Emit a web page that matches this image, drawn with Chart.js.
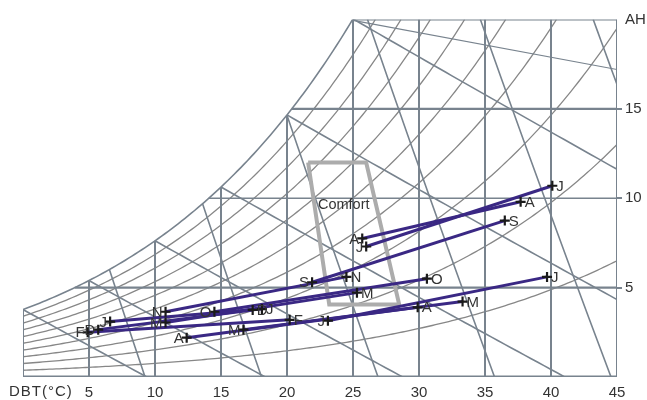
<!DOCTYPE html>
<html><head><meta charset="utf-8">
<style>html,body{margin:0;padding:0;background:#fff}#wrap{width:647px;height:400px}</style>
<script src="https://cdn.jsdelivr.net/npm/chart.js@4.4.1/dist/chart.umd.min.js"></script>
</head><body><div id="wrap"><canvas id="c" width="647" height="400"></canvas></div>
<script>
// ---- monthly data (min point -> max point) ----
const months = ['J','F','M','A','M','J','J','A','S','O','N','D'];
const minDBT = [6.6, 4.9, 10.8, 12.4, 16.7, 23.1, 26.0, 25.7, 21.9, 14.5, 10.8, 5.7];
const minAH  = [3.1, 2.5, 3.05, 2.2, 2.65, 3.15, 7.3, 7.75, 5.3, 3.65, 3.65, 2.65];
const maxDBT = [18.1, 20.2, 25.3, 29.9, 33.3, 39.7, 40.1, 37.7, 36.5, 30.6, 24.5, 17.4];
const maxAH  = [3.8, 3.2, 4.72, 3.9, 4.22, 5.6, 10.7, 9.8, 8.75, 5.5, 5.6, 3.75];
// ---- comfort zone ----
const comfortDBT = [21.6, 26.0, 28.5, 23.2];
const comfortAH  = [12.0, 12.0, 4.05, 4.05];
// ---- axes / chart lines ----
const xTicks = [5, 10, 15, 20, 25, 30, 35, 40, 45];
const yTicks = [5, 10, 15, 20];
const dbtLines = [0, 5, 10, 15, 20, 25, 30, 35, 40, 45];
const ahLines = [5, 10, 15, 20];
const rhLevels = [0.1, 0.2, 0.3, 0.4, 0.5, 0.6, 0.7, 0.8, 0.9, 1.0];
const wbLevels = [0, 5, 10, 15, 20, 25];
const volLevels = [0.80, 0.825, 0.85, 0.875, 0.90, 0.925];
const extraLineDBT = [25, 45];
const extraLineAH = [19.95, 17.2];
const X_MIN = 0, X_MAX = 45, Y_MIN = 0, Y_MAX = 20;

const P = 101.325;
function pws(T){ return 0.61094*Math.exp(17.625*T/(T+243.04)); }
function wsat(T){ const p = pws(T); return 622*p/(P-p); }
function satT(ah){ let lo=-20, hi=70; for(let i=0;i<60;i++){ const m=(lo+hi)/2; if(wsat(m)<ah) lo=m; else hi=m; } return (lo+hi)/2; }

const GRID = '#78838e', CURVE = '#878787';
function line(pts, color, width, order){
  return {type:'scatter', data:pts, showLine:true, borderColor:color, borderWidth:width,
          pointRadius:0, fill:false, tension:0, order:order};
}
const datasets = [];
// RH curves
rhLevels.forEach(rh => {
  const pts = [];
  for(let T=X_MIN; T<=X_MAX+1e-9; T+=0.25){
    const w = rh*wsat(T);
    if(w > Y_MAX){ pts.push({x:satT(Y_MAX/rh), y:Y_MAX}); break; }
    pts.push({x:T, y:w});
  }
  datasets.push(line(pts, rh===1 ? GRID : CURVE, rh===1 ? 1.6 : 1.3, 20));
});
// dry bulb verticals
dbtLines.forEach(T => datasets.push(line([{x:T,y:0},{x:T,y:Math.min(wsat(T),Y_MAX)}], GRID, 2, 18)));
// humidity horizontals
ahLines.forEach(a => datasets.push(line([{x:Math.max(satT(a),X_MIN),y:a},{x:X_MAX,y:a}], GRID, a===10?1.4:2.2, 18)));
datasets.push(line([{x:X_MIN,y:0},{x:X_MAX,y:0}], GRID, 3, 18));
// wet bulb lines
wbLevels.forEach(Twb => {
  const Ws = wsat(Twb)/1000;
  const f = T => ((2501-2.326*Twb)*Ws - 1.006*(T-Twb))/(2501+1.86*T-4.186*Twb)*1000;
  const pts = [];
  let prevT = Twb, prevW = f(Twb);
  for(let T=Twb; T<=X_MAX+1e-9; T+=0.5){
    const w = f(T);
    if(w < 0){ const t0 = prevT + (T-prevT)*prevW/(prevW-w); pts.push({x:t0,y:0}); break; }
    pts.push({x:T,y:w}); prevT=T; prevW=w;
  }
  datasets.push(line(pts, GRID, 1.6, 19));
});
// specific volume lines
volLevels.forEach(v => {
  const wv = T => (v*P/(0.287042*(T+273.15)) - 1)/1.6078*1000;
  let lo=-10, hi=60;
  for(let i=0;i<60;i++){ const m=(lo+hi)/2; if(wv(m) - Math.min(wsat(m),Y_MAX) > 0) lo=m; else hi=m; }
  const t0 = Math.max((lo+hi)/2, X_MIN);
  const tEnd = Math.min(v*P/0.287042 - 273.15, X_MAX);
  const pts = [];
  for(let k=0;k<=6;k++){ const T = t0 + (tEnd-t0)*k/6; pts.push({x:T, y:Math.max(wv(T),0)}); }
  datasets.push(line(pts, GRID, 1.6, 19));
});
datasets.push(line(extraLineDBT.map((t,i)=>({x:t,y:extraLineAH[i]})), GRID, 1.1, 19));
// comfort polygon
const cpts = comfortDBT.map((t,i)=>({x:t,y:comfortAH[i]})); cpts.push(cpts[0]);
datasets.push(line(cpts, '#acacac', 4, 5));
// monthly lines
months.forEach((m,i) => datasets.push(line([{x:minDBT[i],y:minAH[i]},{x:maxDBT[i],y:maxAH[i]}], '#3a2884', 3, 3)));
// markers
const mk = [];
months.forEach((m,i)=>{ mk.push({x:minDBT[i],y:minAH[i]}); mk.push({x:maxDBT[i],y:maxAH[i]}); });
datasets.push({type:'scatter', data:mk, pointStyle:'cross', pointRadius:5, borderColor:'#1a1a1a', borderWidth:2.2, showLine:false, order:1});

const FONT = '"Liberation Sans", Arial, sans-serif';
const textPlugin = {
  id:'texts',
  afterDatasetsDraw(chart){
    const {ctx, scales:{x, y}} = chart;
    ctx.save();
    ctx.fillStyle = '#333';
    ctx.textBaseline = 'middle';
    ctx.font = '15px ' + FONT;
    months.forEach((m,i)=>{
      ctx.textAlign = 'right';
      ctx.fillText(m, x.getPixelForValue(minDBT[i]) - 3, y.getPixelForValue(minAH[i]) + 1);
      ctx.textAlign = 'left';
      ctx.fillText(m, x.getPixelForValue(maxDBT[i]) + 4, y.getPixelForValue(maxAH[i]) + 1);
    });
    ctx.textAlign = 'center';
    ctx.font = '14.5px ' + FONT;
    ctx.fillText('Comfort', x.getPixelForValue(24.3), y.getPixelForValue(9.65));
    ctx.font = '15px ' + FONT;
    ctx.textAlign = 'left';
    ctx.letterSpacing = '1px';
    ctx.fillText('DBT(\u00B0C)', 9, 392);
    ctx.restore();
  }
};

new Chart(document.getElementById('c'), {
  data:{datasets},
  options:{
    responsive:false, animation:false, devicePixelRatio:1, events:[],
    layout:{padding:{left:23, top:19.5, right:0, bottom:0}},
    plugins:{legend:{display:false}, tooltip:{enabled:false}},
    scales:{
      x:{type:'linear', position:'bottom', min:X_MIN, max:X_MAX,
         afterBuildTicks:s=>{ s.ticks = xTicks.map(v=>({value:v})); },
         afterFit:s=>{ s.height = 23; },
         grid:{display:false, drawTicks:false, tickLength:0}, border:{display:false},
         ticks:{autoSkip:false, maxRotation:0, padding:7, color:'#333', font:{size:15, family:FONT}}},
      y:{type:'linear', position:'right', min:Y_MIN, max:Y_MAX,
         afterBuildTicks:s=>{ s.ticks = yTicks.map(v=>({value:v})); },
         afterFit:s=>{ s.width = 30; },
         grid:{display:true, drawOnChartArea:false, drawTicks:true, tickLength:5, lineWidth:2,
               color:c=> (c.tick && c.tick.value<20) ? GRID : 'rgba(0,0,0,0)'},
         border:{display:false},
         ticks:{padding:3, color:'#333', font:{size:15, family:FONT},
                callback:v=> v===20 ? 'AH' : String(v)}}
    }
  },
  plugins:[textPlugin]
});
</script>
</body></html>
